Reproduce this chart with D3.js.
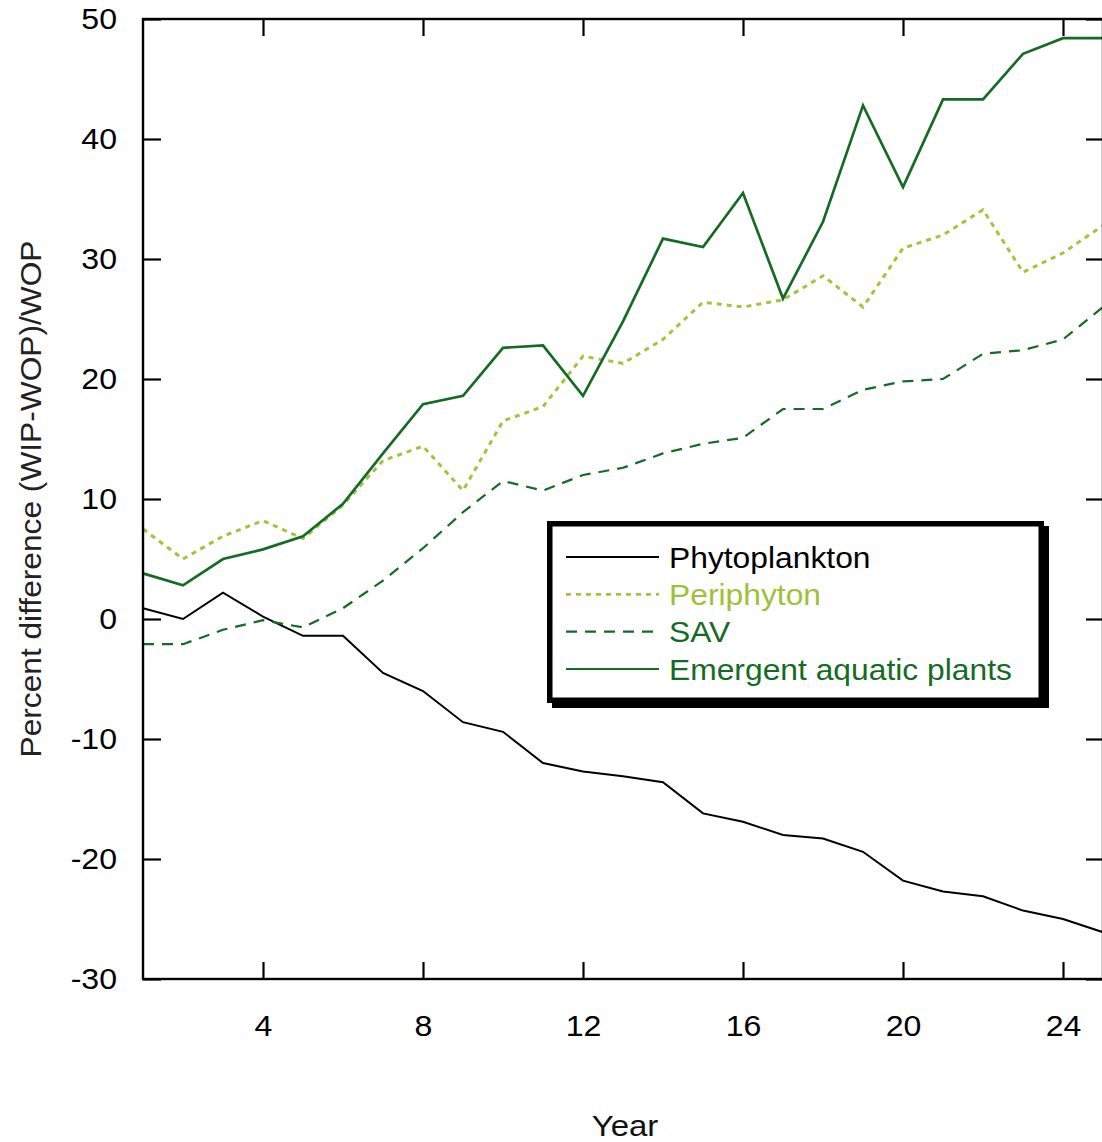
<!DOCTYPE html>
<html>
<head>
<meta charset="utf-8">
<script src="https://cdn.jsdelivr.net/npm/d3@7"></script>
<style>
  html, body { margin: 0; padding: 0; background: #fff; }
  svg { display: block; font-family: "Liberation Sans", Arial, sans-serif; }
</style>
</head>
<body>
<svg id="chart" width="1102" height="1142"></svg>
<script>
// Simulated years and percent difference (WIP-WOP)/WOP by community
const years = d3.range(1, 26);
const phytoplankton = [0.9, 0.0, 2.2, 0.2, -1.4, -1.4, -4.5, -6.0, -8.6, -9.4, -12.0, -12.7, -13.1, -13.6, -16.2, -16.9, -18.0, -18.3, -19.4, -21.8, -22.7, -23.1, -24.3, -25.0, -26.1];
const periphyton = [7.5, 5.0, 6.9, 8.2, 6.7, 9.5, 13.2, 14.4, 10.7, 16.5, 17.7, 21.9, 21.3, 23.3, 26.4, 26.0, 26.6, 28.6, 26.0, 30.9, 32.0, 34.1, 28.9, 30.5, 32.8];
const sav = [-2.1, -2.1, -0.9, -0.1, -0.7, 0.9, 3.2, 5.9, 8.9, 11.5, 10.7, 12.0, 12.6, 13.8, 14.6, 15.1, 17.5, 17.5, 19.1, 19.8, 20.0, 22.1, 22.4, 23.3, 26.0];
const emergent = [3.8, 2.8, 5.0, 5.8, 6.9, 9.6, 13.8, 17.9, 18.6, 22.6, 22.8, 18.6, 24.8, 31.7, 31.0, 35.5, 26.7, 33.1, 42.8, 36.0, 43.3, 43.3, 47.1, 48.4, 48.4];

const xTicks = [4, 8, 12, 16, 20, 24];
const yTicks = [-30, -20, -10, 0, 10, 20, 30, 40, 50];

const seriesNames = ["Phytoplankton", "Periphyton", "SAV", "Emergent aquatic plants"];
const seriesValues = [phytoplankton, periphyton, sav, emergent];

const styles = [
  { color: "#000000", width: 2, dash: null },
  { color: "#a2c43c", width: 3, dash: "5,5" },
  { color: "#166b24", width: 2.2, dash: "11,8" },
  { color: "#166b24", width: 2.7, dash: null }
];

const svg = d3.select("#chart");
const plotL = 143, plotR = 1103, plotT = 19, plotB = 979;
const stretch = 1.07; // slightly wide lettering

const x = d3.scaleLinear().domain([1, 25]).range([plotL, plotR]);
const y = d3.scaleLinear().domain([-30, 50]).range([plotB, plotT]);

// Series lines
const line = d3.line().x((d, i) => x(years[i])).y(d => y(d));
const g = svg.append("g");
seriesValues.forEach((vals, k) => {
  const s = styles[k];
  g.append("path")
    .datum(vals)
    .attr("d", line)
    .attr("fill", "none")
    .attr("stroke", s.color)
    .attr("stroke-width", s.width)
    .attr("stroke-linejoin", "miter")
    .attr("stroke-dasharray", s.dash);
});

// Axes with inward ticks
function styleAxis(sel) {
  sel.select(".domain").remove();
  sel.selectAll(".tick line").attr("stroke", "#000").attr("stroke-width", 2.2);
  sel.selectAll("text")
    .attr("fill", "#000")
    .style("font-size", "30px")
    .attr("transform", `scale(${stretch},1)`);
}

const plain = d => String(d);

svg.append("g")
  .attr("transform", `translate(${plotL},0)`)
  .call(d3.axisLeft(y).tickValues(yTicks).tickSize(-18).tickPadding(26 / stretch).tickFormat(plain))
  .call(styleAxis);

svg.append("g")
  .attr("transform", `translate(${plotR},0)`)
  .call(d3.axisRight(y).tickValues(yTicks).tickSize(-17).tickFormat(""))
  .call(styleAxis);

svg.append("g")
  .attr("transform", `translate(0,${plotB})`)
  .call(d3.axisBottom(x).tickValues(xTicks).tickSize(-17).tickPadding(36).tickFormat(plain))
  .call(styleAxis);

svg.append("g")
  .attr("transform", `translate(0,${plotT})`)
  .call(d3.axisTop(x).tickValues(xTicks).tickSize(-17).tickFormat(""))
  .call(styleAxis);

// Plot frame
svg.append("rect")
  .attr("x", plotL).attr("y", plotT)
  .attr("width", plotR - plotL).attr("height", plotB - plotT)
  .attr("fill", "none").attr("stroke", "#000").attr("stroke-width", 2.4);

// Axis titles
svg.append("text")
  .attr("transform", `translate(${(plotL + plotR) / 2 + 2},1136) scale(1.1,1)`)
  .attr("text-anchor", "middle")
  .style("font-size", "30px")
  .attr("fill", "#111")
  .text("Year");

svg.append("text")
  .attr("transform", "translate(41,499) rotate(-90)")
  .attr("text-anchor", "middle")
  .style("font-size", "30px")
  .attr("fill", "#222")
  .attr("textLength", 517)
  .attr("lengthAdjust", "spacingAndGlyphs")
  .text("Percent difference (WIP-WOP)/WOP");

// Legend box with drop shadow
const lg = svg.append("g");
const bx = 547, by = 521, bw = 497, bh = 182, bs = 5.5;
lg.append("rect")
  .attr("x", bx + bs / 2 + 5).attr("y", by + bs / 2 + 5)
  .attr("width", bw - bs).attr("height", bh - bs)
  .attr("fill", "none").attr("stroke", "#000").attr("stroke-width", bs);
lg.append("rect")
  .attr("x", bx + bs / 2).attr("y", by + bs / 2)
  .attr("width", bw - bs).attr("height", bh - bs)
  .attr("fill", "#fff").attr("stroke", "#000").attr("stroke-width", bs);

const rowY = d3.scaleLinear().domain([0, 3]).range([557, 669]);
seriesNames.forEach((name, k) => {
  const s = styles[k];
  lg.append("line")
    .attr("x1", 566).attr("x2", 659)
    .attr("y1", rowY(k)).attr("y2", rowY(k))
    .attr("stroke", s.color)
    .attr("stroke-width", k === 1 ? 2.6 : 2.2)
    .attr("stroke-dasharray", s.dash);
  lg.append("text")
    .attr("transform", `translate(669,${rowY(k)}) scale(1.06,1)`)
    .attr("dy", "0.35em")
    .style("font-size", "30px")
    .attr("fill", k === 1 ? "#9cc23a" : s.color)
    .text(name);
});
</script>
</body>
</html>
